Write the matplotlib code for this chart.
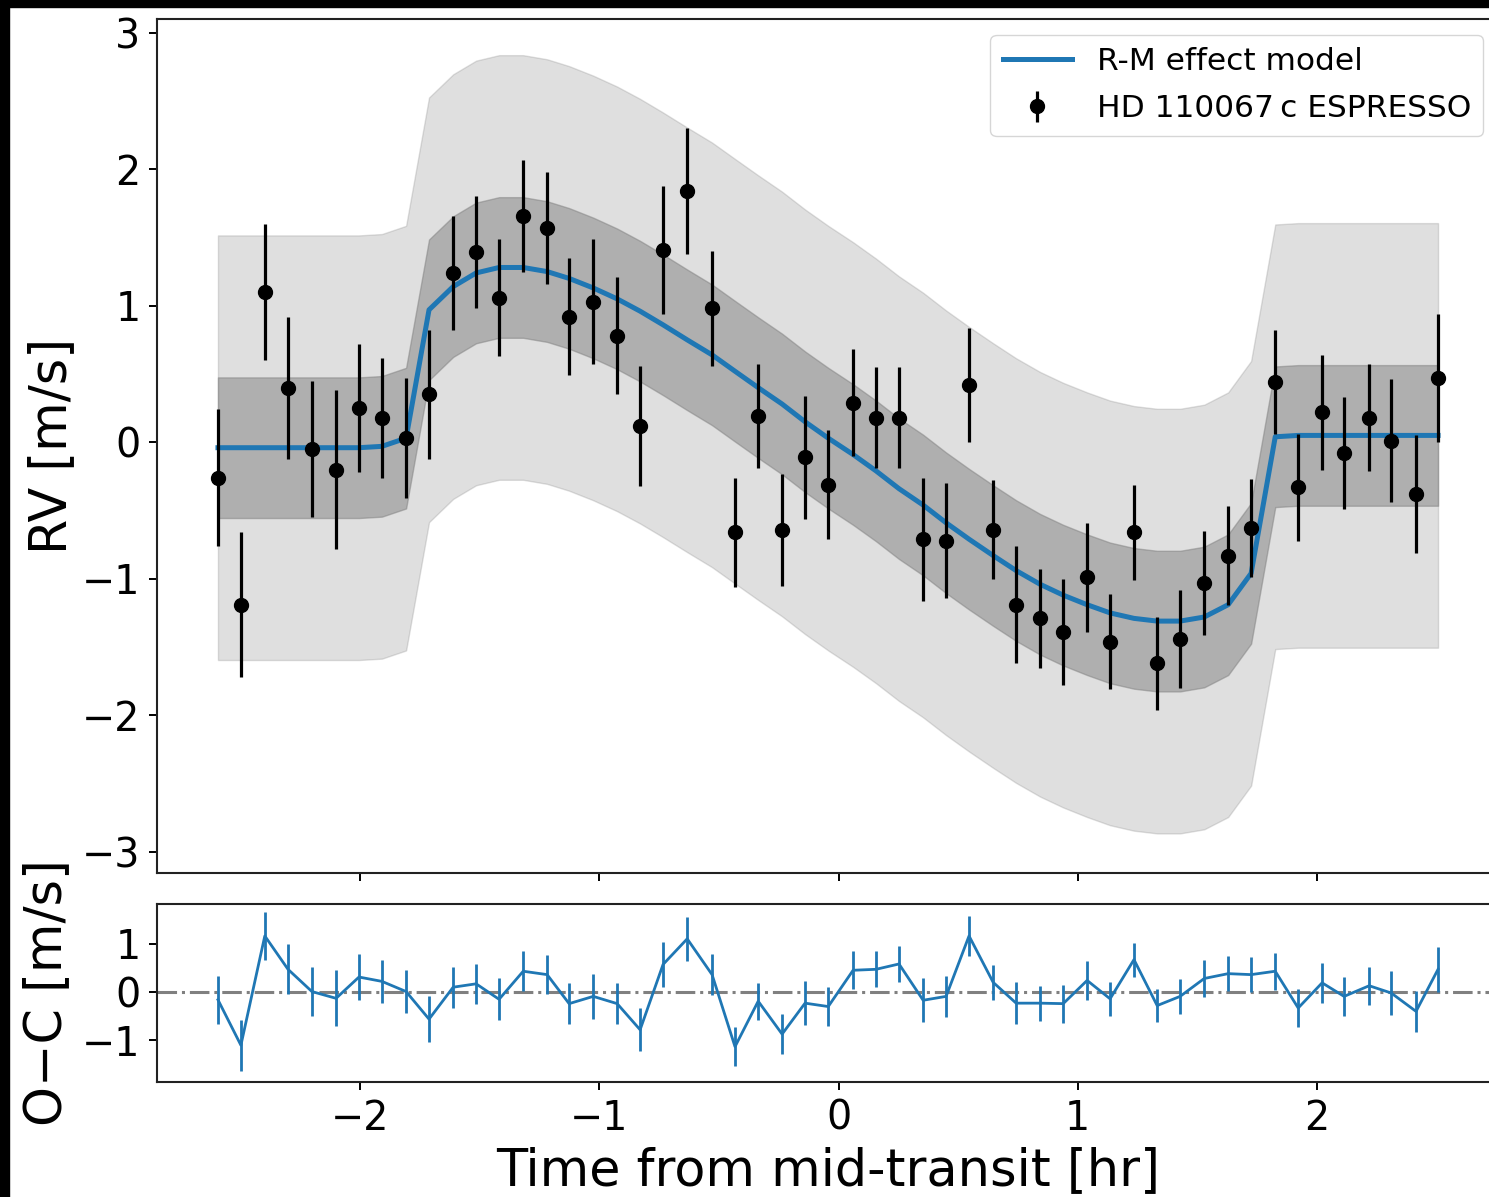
import matplotlib
matplotlib.use("Agg")
import matplotlib.pyplot as plt
from matplotlib.patches import Rectangle
import numpy as np

# ---- data ----
time_hr = [-2.596, -2.500, -2.400, -2.303, -2.203, -2.102, -2.006, -1.910, -1.809, -1.713,
           -1.612, -1.516, -1.420, -1.319, -1.219, -1.127, -1.026, -0.926, -0.830, -0.734,
           -0.633, -0.529, -0.433, -0.336, -0.236, -0.140, -0.043, 0.061, 0.157, 0.253,
           0.354, 0.450, 0.546, 0.647, 0.743, 0.843, 0.940, 1.040, 1.136, 1.236,
           1.333, 1.429, 1.530, 1.630, 1.726, 1.827, 1.923, 2.023, 2.115, 2.220,
           2.312, 2.416, 2.508]

rv_obs = [-0.26, -1.19, 1.10, 0.40, -0.05, -0.20, 0.25, 0.18, 0.03, 0.35,
          1.24, 1.39, 1.06, 1.66, 1.57, 0.92, 1.03, 0.78, 0.12, 1.41,
          1.84, 0.98, -0.66, 0.19, -0.64, -0.11, -0.31, 0.29, 0.18, 0.18,
          -0.71, -0.72, 0.42, -0.64, -1.19, -1.29, -1.39, -0.99, -1.46, -0.66,
          -1.62, -1.44, -1.03, -0.83, -0.63, 0.44, -0.33, 0.22, -0.08, 0.18,
          0.01, -0.38, 0.47]

rv_err = [0.50, 0.53, 0.50, 0.52, 0.50, 0.58, 0.47, 0.44, 0.44, 0.47,
          0.42, 0.41, 0.43, 0.41, 0.41, 0.43, 0.46, 0.43, 0.44, 0.47,
          0.46, 0.42, 0.40, 0.38, 0.41, 0.45, 0.40, 0.39, 0.37, 0.37,
          0.45, 0.42, 0.42, 0.36, 0.43, 0.36, 0.39, 0.40, 0.35, 0.35,
          0.34, 0.36, 0.38, 0.36, 0.36, 0.38, 0.39, 0.42, 0.41, 0.39,
          0.45, 0.43, 0.47]

rm_model = [-0.04, -0.04, -0.04, -0.04, -0.04, -0.04, -0.04, -0.03, 0.03, 0.97,
            1.14, 1.24, 1.28, 1.28, 1.25, 1.20, 1.13, 1.05, 0.96, 0.86,
            0.75, 0.64, 0.52, 0.40, 0.28, 0.15, 0.03, -0.09, -0.21, -0.34,
            -0.46, -0.59, -0.71, -0.83, -0.94, -1.04, -1.12, -1.19, -1.25, -1.29,
            -1.31, -1.31, -1.28, -1.19, -0.96, 0.04, 0.05, 0.05, 0.05, 0.05,
            0.05, 0.05, 0.05]

residuals = [-0.16, -1.10, 1.16, 0.47, 0.01, -0.13, 0.31, 0.22, 0.01, -0.56,
             0.10, 0.17, -0.15, 0.43, 0.36, -0.24, -0.09, -0.24, -0.78, 0.57,
             1.10, 0.36, -1.13, -0.19, -0.87, -0.23, -0.30, 0.45, 0.47, 0.58,
             -0.17, -0.09, 1.16, 0.20, -0.23, -0.23, -0.24, 0.24, -0.14, 0.67,
             -0.28, -0.09, 0.28, 0.38, 0.36, 0.43, -0.33, 0.19, -0.09, 0.13,
             -0.02, -0.40, 0.47]

band_1sig = 0.515
band_3sig = 1.555

rv_ticks = [-3, -2, -1, 0, 1, 2, 3]
oc_ticks = [-1, 0, 1]
x_ticks = [-2, -1, 0, 1, 2]

t = np.array(time_hr)
m = np.array(rm_model)

# ---- figure ----
W, H = 1489, 1197
fig = plt.figure(figsize=(W / 100, H / 100), dpi=100)

left = 157 / W
width = (1499 - 157) / W
ax = fig.add_axes([left, 1 - 873 / H, width, (873 - 19) / H])
ax2 = fig.add_axes([left, 1 - 1082 / H, width, (1082 - 904) / H])

for a in (ax, ax2):
    for s in a.spines.values():
        s.set_linewidth(1.5)
        s.set_color('#222222')
    a.tick_params(direction='out', length=6, width=1.4, pad=6, labelsize=28.5, colors='black')
    a.set_xlim(-2.851, 2.763)
    a.set_xticks(x_ticks)

# bands
ax.fill_between(t, m - band_3sig, m + band_3sig, color='gray', alpha=0.25, lw=1, zorder=1)
ax.fill_between(t, m - band_1sig, m + band_1sig, color='gray', alpha=0.5, lw=1, zorder=2)
ax.plot(t, m, color='#1f77b4', lw=3.6, zorder=3, label='R-M effect model')
ax.errorbar(t, rv_obs, yerr=rv_err, fmt='o', color='black', ms=10, elinewidth=2.3,
            capsize=0, zorder=4, label='HD 110067\u2009c ESPRESSO')
ax.set_ylim(-3.155, 3.10)
ax.set_yticks(rv_ticks)
ax.set_xticklabels([])
ax.set_ylabel('RV [m/s]', fontsize=36.5)
ax.yaxis.set_label_coords(-0.0596, 0.5)
leg = ax.legend(loc='upper right', fontsize=22.5, handlelength=2.2, labelspacing=0.58)

# residuals
ax2.axhline(0, color='gray', ls='-.', lw=2.2, zorder=1)
ax2.errorbar(t, residuals, yerr=rv_err, color='#1f77b4', lw=2.0, elinewidth=2.0, zorder=2)
ax2.set_ylim(-1.86, 1.82)
ax2.set_yticks(oc_ticks)
ax2.set_ylabel('O\u2212C [m/s]', fontsize=36.5)
ax2.yaxis.set_label_coords(-0.0633, 0.5)
ax2.set_xlabel('Time from mid-transit [hr]', fontsize=36.6)
ax2.xaxis.set_label_coords(0.5, -0.36)

# black border strips from the screenshot
fig.add_artist(Rectangle((0, 1 - 7 / H), 1, 7 / H, transform=fig.transFigure,
                         color='black', zorder=20))
fig.add_artist(Rectangle((0, 0), 9 / W, 1, transform=fig.transFigure,
                         color='black', zorder=20))

fig.savefig('out.png', dpi=100)
